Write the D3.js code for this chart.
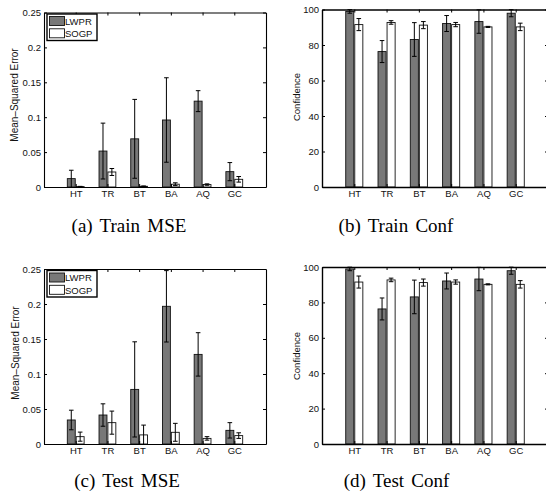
<!DOCTYPE html>
<html>
<head>
<meta charset="utf-8">
<script src="https://cdn.jsdelivr.net/npm/d3@7/dist/d3.min.js"></script>
<style>
  body { margin: 0; background: #fff; }
  svg { display: block; }
  .tick text { font-family: "Liberation Sans", Arial, sans-serif; fill: #111; }
</style>
</head>
<body>
<div id="chart"></div>
<script>
// categories and series
const categories = ['HT', 'TR', 'BT', 'BA', 'AQ', 'GC'];
const seriesNames = ['LWPR', 'SOGP'];

// (a) train MSE
const trainMseLwpr    = [0.012, 0.0515, 0.069, 0.096, 0.123, 0.022];
const trainMseLwprErr = [0.012, 0.040, 0.0565, 0.0605, 0.015, 0.013];
const trainMseSogp    = [0.0006, 0.0215, 0.001, 0.004, 0.0035, 0.011];
const trainMseSogpErr = [0.0003, 0.005, 0.0005, 0.002, 0.001, 0.004];

// (b) train confidence
const trainConfLwpr    = [98.9, 76.3, 83.1, 92.1, 93.2, 97.9];
const trainConfLwprErr = [1.0, 6.2, 9.5, 4.5, 6.6, 2.0];
const trainConfSogp    = [91.5, 92.7, 91.2, 91.5, 90.2, 90.2];
const trainConfSogpErr = [3.4, 1.0, 2.0, 1.2, 0.3, 2.1];

// (c) test MSE
const testMseLwpr    = [0.0343, 0.0414, 0.078, 0.1967, 0.128, 0.0195];
const testMseLwprErr = [0.014, 0.016, 0.068, 0.051, 0.031, 0.011];
const testMseSogp    = [0.0105, 0.0305, 0.013, 0.0167, 0.008, 0.012];
const testMseSogpErr = [0.0065, 0.0165, 0.014, 0.0128, 0.0025, 0.004];

// (d) test confidence
const testConfLwpr    = [98.9, 76.3, 83.1, 92.1, 93.2, 97.9];
const testConfLwprErr = [1.0, 6.2, 9.5, 4.5, 6.6, 2.0];
const testConfSogp    = [91.5, 92.7, 91.2, 91.5, 90.2, 90.2];
const testConfSogpErr = [3.4, 1.0, 2.0, 1.2, 0.3, 2.1];

// tick labels
const mseTicks  = [0, 0.05, 0.1, 0.15, 0.2, 0.25];
const confTicks = [0, 20, 40, 60, 80, 100];

const width = 546, height = 493;
const fills = ['#787878', '#ffffff'];

const svg = d3.select('#chart')
  .append('svg')
  .attr('width', width)
  .attr('height', height);

function drawPanel(p) {
  const x = d3.scaleLinear().domain([0, 7]).range([p.left, p.right]);
  const y = d3.scaleLinear().domain([0, d3.max(p.ticks)]).range([p.bottom, p.top]).clamp(true);
  const g = svg.append('g');

  const catPos = categories.map((c, i) => i + 1);
  const offsets = [-0.14, 0.14];
  const barW = 0.25;

  // bars
  p.series.forEach((s, si) => {
    g.append('g')
      .selectAll('rect')
      .data(s.values)
      .enter()
      .append('rect')
      .attr('x', (d, i) => x(catPos[i] + offsets[si] - barW / 2))
      .attr('y', d => y(d))
      .attr('width', x(barW) - x(0))
      .attr('height', d => y(0) - y(d))
      .attr('fill', fills[si])
      .attr('stroke', '#111')
      .attr('stroke-width', 0.9);
  });

  // error bars
  const capW = 2.3;
  p.series.forEach((s, si) => {
    const eb = g.append('g').attr('stroke', '#000').attr('stroke-width', 1);
    s.values.forEach((v, i) => {
      const cx = x(catPos[i] + offsets[si]);
      const lo = y(v - s.errors[i]), hi = y(v + s.errors[i]);
      eb.append('line').attr('x1', cx).attr('x2', cx).attr('y1', lo).attr('y2', hi);
      eb.append('line').attr('x1', cx - capW).attr('x2', cx + capW).attr('y1', hi).attr('y2', hi);
      if (v - s.errors[i] > 0)
        eb.append('line').attr('x1', cx - capW).attr('x2', cx + capW).attr('y1', lo).attr('y2', lo);
    });
  });

  // axes (box with inward ticks)
  const fmt = d => String(d);
  g.append('g')
    .attr('transform', `translate(${p.left},0)`)
    .call(d3.axisLeft(y).tickValues(p.ticks).tickFormat(fmt).tickSizeInner(-3).tickSizeOuter(0).tickPadding(3))
    .call(a => a.selectAll('text').style('font-size', p.tickFont + 'px'));
  g.append('g')
    .attr('transform', `translate(${p.right},0)`)
    .call(d3.axisRight(y).tickValues(p.ticks).tickFormat('').tickSizeInner(-3).tickSizeOuter(0));
  g.append('g')
    .attr('transform', `translate(0,${p.bottom})`)
    .call(d3.axisBottom(x).tickValues(catPos).tickFormat(d => categories[d - 1]).tickSizeInner(-3).tickSizeOuter(0).tickPadding(3))
    .call(a => a.selectAll('text').style('font-size', p.tickFont + 'px'));
  g.append('g')
    .attr('transform', `translate(0,${p.top})`)
    .call(d3.axisTop(x).tickValues(catPos).tickFormat('').tickSizeInner(-3).tickSizeOuter(0));
  g.selectAll('.domain').attr('stroke', '#000').attr('stroke-width', p.axisW);

  // y label
  g.append('text')
    .attr('transform', `translate(${p.ylabelX},${p.ylabelY}) rotate(-90)`)
    .attr('text-anchor', 'middle')
    .style('font-family', '"Liberation Sans", Arial, sans-serif')
    .style('font-size', p.labelFont + 'px')
    .attr('fill', '#111')
    .text(p.ylabel);

  // legend
  if (p.legend) {
    const lx = p.left + 3, ly = p.top + 1.5;
    const lg = g.append('g').attr('transform', `translate(${lx},${ly})`);
    lg.append('rect')
      .attr('width', 50).attr('height', 26.5)
      .attr('fill', '#fff').attr('stroke', '#000').attr('stroke-width', 1.4);
    seriesNames.forEach((name, i) => {
      lg.append('rect')
        .attr('x', 2.5).attr('y', 2.5 + i * 12.3)
        .attr('width', 15).attr('height', 9)
        .attr('fill', fills[i]).attr('stroke', '#111').attr('stroke-width', 0.9);
      lg.append('text')
        .attr('x', 18).attr('y', 10.7 + i * 12.3)
        .style('font-family', '"Liberation Sans", Arial, sans-serif')
        .style('font-size', '9.5px')
        .attr('fill', '#111')
        .text(name);
    });
  }

  // caption
  svg.append('text')
    .attr('x', p.capX)
    .attr('y', p.capY)
    .attr('text-anchor', 'middle')
    .style('font-family', '"Liberation Serif", "Times New Roman", serif')
    .style('font-size', '19px')
    .style('word-spacing', '2.5px')
    .attr('fill', '#000')
    .text(p.caption);
}

const panels = [
  { left: 44, right: 266, top: 12.5, bottom: 187, ticks: mseTicks, tickFont: 9.5, labelFont: 10, axisW: 1.1,
    ylabel: 'Mean\u2013Squared Error', ylabelX: 17.5, ylabelY: 95, legend: true,
    series: [{ values: trainMseLwpr, errors: trainMseLwprErr }, { values: trainMseSogp, errors: trainMseSogpErr }],
    caption: '(a) Train MSE', capX: 129, capY: 232 },
  { left: 322, right: 548, top: 9.5, bottom: 187, ticks: confTicks, tickFont: 9.5, labelFont: 9.5, axisW: 1.4,
    ylabel: 'Confidence', ylabelX: 299.5, ylabelY: 97, legend: false,
    series: [{ values: trainConfLwpr, errors: trainConfLwprErr }, { values: trainConfSogp, errors: trainConfSogpErr }],
    caption: '(b) Train Conf', capX: 396, capY: 232 },
  { left: 44, right: 266, top: 269, bottom: 444, ticks: mseTicks, tickFont: 9.5, labelFont: 10, axisW: 1.1,
    ylabel: 'Mean\u2013Squared Error', ylabelX: 18.5, ylabelY: 353, legend: true,
    series: [{ values: testMseLwpr, errors: testMseLwprErr }, { values: testMseSogp, errors: testMseSogpErr }],
    caption: '(c) Test MSE', capX: 127, capY: 487 },
  { left: 322, right: 548, top: 267, bottom: 444, ticks: confTicks, tickFont: 9.5, labelFont: 9.5, axisW: 1.4,
    ylabel: 'Confidence', ylabelX: 299.5, ylabelY: 356, legend: false,
    series: [{ values: testConfLwpr, errors: testConfLwprErr }, { values: testConfSogp, errors: testConfSogpErr }],
    caption: '(d) Test Conf', capX: 396.5, capY: 487 }
];

panels.forEach(drawPanel);
</script>
</body>
</html>
